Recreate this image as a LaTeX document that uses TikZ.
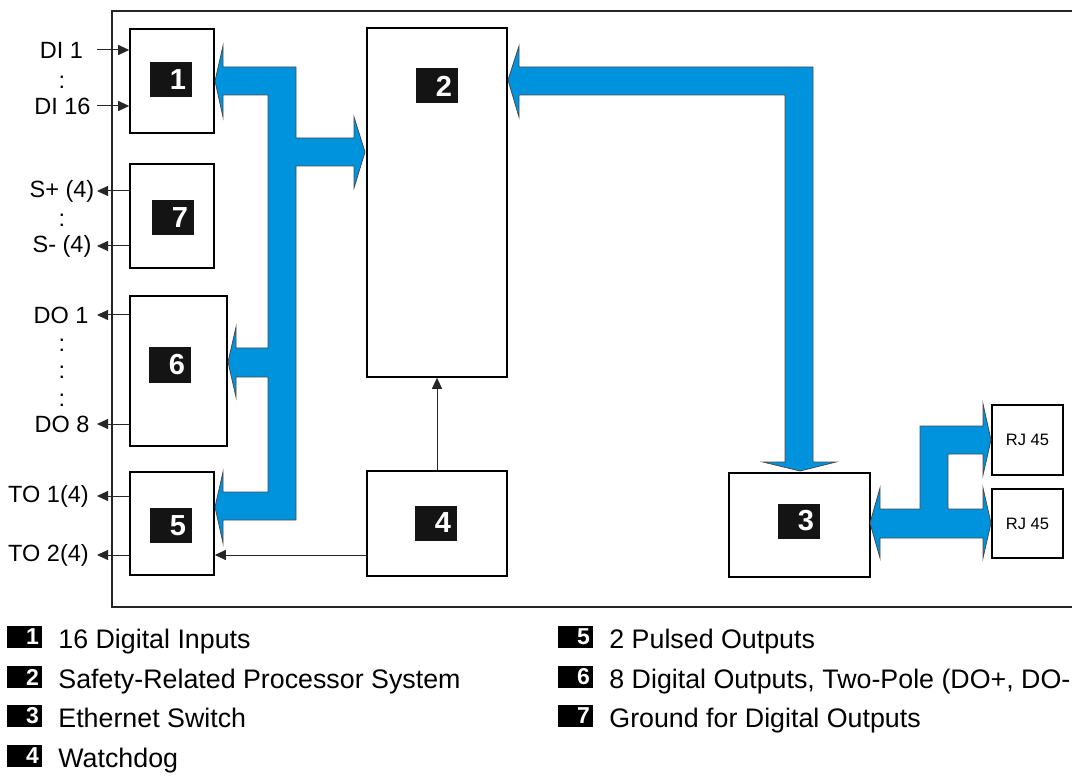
\documentclass[tikz,border=0pt]{standalone}
\usepackage{fontspec}
\setmainfont{Liberation Sans}
\usetikzlibrary{arrows.meta,positioning}
\definecolor{busblue}{HTML}{0093DD}
\definecolor{busedge}{HTML}{4A4A4A}
\definecolor{tagblack}{HTML}{141414}

\begin{document}
\begin{tikzpicture}[x=1pt, y=-1pt,
  blk/.style={draw, line width=1.6pt, inner sep=0pt},
  tag/.style={fill=tagblack, text=white, font=\fontsize{29}{29}\selectfont\bfseries,
    minimum width=42pt, minimum height=35pt, text width=30pt, inner xsep=6pt, inner ysep=0pt, align=right},
  key/.style={fill=black, text=white, font=\fontsize{23}{23}\selectfont\bfseries,
    minimum width=35pt, minimum height=22pt, text width=29pt, inner xsep=3pt, inner ysep=0pt, align=right},
  keytxt/.style={font=\fontsize{26.8}{30}\selectfont, inner sep=0pt},
  lbl/.style={font=\fontsize{23.5}{28}\selectfont, inner sep=0pt},
  sig/.style={-{Triangle[length=11pt,width=10pt]}, line width=1pt, black!85},
  bus/.style={fill=busblue, draw=busedge, line width=0.8pt, line join=miter}
]
  \useasboundingbox (0,0) rectangle (1072,778);
  \clip (0,0) rectangle (1072,778);

  % housing
  \draw[line width=2.4pt, black!85] (112,11) rectangle (1090,607);

  % modules
  \node[blk, minimum width=84pt,  minimum height=104pt] (box1) at (172,81) {};
  \node[blk, minimum width=84pt,  minimum height=104pt] (box7) at (172,216) {};
  \node[blk, minimum width=97pt,  minimum height=150pt] (box6) at (178.5,371) {};
  \node[blk, minimum width=84pt,  minimum height=103pt] (box5) at (172,523.5) {};
  \node[blk, minimum width=140pt, minimum height=349pt] (box2) at (437,202.5) {};
  \node[blk, minimum width=140pt, minimum height=105pt] (box4) at (437,523.5) {};
  \node[blk, minimum width=141pt, minimum height=104pt] (box3) at (799.5,525) {};
  \node[blk, minimum width=71pt, minimum height=70pt, font=\fontsize{16.5}{20}\selectfont] (rj1) at (1027.5,440) {RJ 45};
  \node[blk, minimum width=71pt, minimum height=69pt, font=\fontsize{16.5}{20}\selectfont] (rj2) at (1027.5,523.5) {RJ 45};

  \foreach \k/\xx/\yy in {1/171/79.5, 7/173/217.5, 6/170/365, 5/171/525.5, 2/437/86, 4/436/523, 3/799/521}
    \node[tag] (tag\k) at (\xx,\yy) {\k};

  % busses
  \draw[bus] (215,81) -- (223,46) -- (223,67) -- (296,67) -- (296,138) -- (354,138) -- (354,117)
    -- (365,152) -- (354,188) -- (354,166) -- (296,166) -- (296,520) -- (223,520) -- (223,543)
    -- (215,507) -- (223,472) -- (223,492) -- (268,492) -- (268,377) -- (236,377) -- (236,397)
    -- (228,362) -- (236,327) -- (236,348) -- (268,348) -- (268,95) -- (223,95) -- (223,117) -- cycle;
  \draw[bus] (508,80) -- (519,46) -- (519,67) -- (813,67) -- (813,462) -- (836,462) -- (800,471)
    -- (763,462) -- (785,462) -- (785,95) -- (519,95) -- (519,117) -- cycle;
  \draw[bus] (870,523) -- (880,488) -- (880,509) -- (920,509) -- (920,426) -- (983,426) -- (983,404)
    -- (991,440) -- (983,475) -- (983,454) -- (948,454) -- (948,509) -- (983,509) -- (983,488)
    -- (991,523) -- (983,558) -- (983,538) -- (880,538) -- (880,558) -- cycle;

  % terminals
  \coordinate (pin) at (97,0);
  \foreach \nm/\xx/\yy/\txt in {di1/61.5/50/DI 1, dic/62/82/:, di16/62.5/106/DI 16,
      sp/62/191/S+ (4), sc/62/220/:, sm/62/246/S- (4),
      do1/61/315/DO 1, dca/62/345/:, dcb/62/372/:, dcc/62/400/:, do8/62/424/DO 8,
      to1/48.5/496/TO 1(4), to2/48.5/555/TO 2(4)}
    \node[lbl] (\nm) at (\xx,\yy) {\txt};

  \foreach \nm in {di1,di16}
    \draw[sig] (\nm -| pin) -- (\nm -| box1.west);
  \foreach \nm/\bx in {sp/box7, sm/box7, do1/box6, do8/box6, to1/box5, to2/box5}
    \draw[sig] (\nm -| \bx.west) -- (\nm -| pin);

  \draw[sig] (box4.north) -- (box2.south);
  \draw[sig] (to2 -| box4.west) -- (to2 -| box5.east);

  % legend
  \foreach \k/\xx/\yy/\txt in {1/24.5/637/16 Digital Inputs, 2/24.5/677/Safety-Related Processor System,
      3/24.5/716/Ethernet Switch, 4/24.5/756/Watchdog, 5/575.5/637/2 Pulsed Outputs,
      6/575.5/677/{8 Digital Outputs, Two-Pole (DO+, DO-}, 7/575.5/716/Ground for Digital Outputs}{
    \node[key] (k\k) at (\xx,\yy) {\k};
    \node[keytxt, right=16pt of k\k.south east, anchor=base west] (t\k) {\txt};
  }
\end{tikzpicture}
\end{document}
